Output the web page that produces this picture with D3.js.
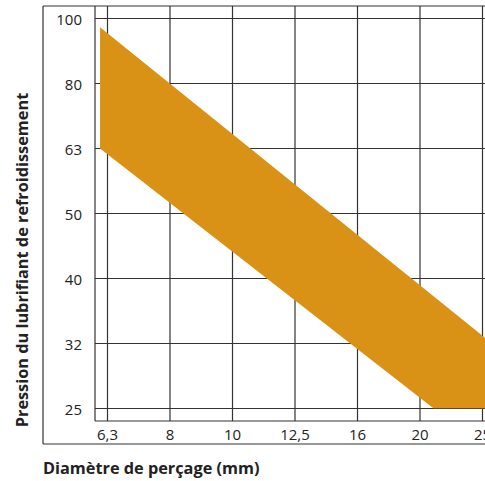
<!DOCTYPE html>
<html>
<head>
<meta charset="utf-8">
<script src="https://cdn.jsdelivr.net/npm/d3@7"></script>
<style>
    body { margin: 0; background: #fff; }
    svg { display: block; }
    text { font-family: "Open Sans", "Noto Sans", sans-serif; fill: #222; }
</style>
</head>
<body>
<svg id="chart"></svg>
<script>
// tick labels (preferred number series, both axes logarithmic)
var diameterTicks = [6.3, 8, 10, 12.5, 16, 20, 25];
var pressureTicks = [25, 32, 40, 50, 63, 80, 100];

// band of recommended pressure
var upperDiameter = [6.15, 26.8];
var upperPressure = [96.8, 30.9];
var lowerDiameter = [6.15, 21.0, 26.8];
var lowerPressure = [63.0, 25.1, 25.1];

var dimensions = {
    width: 485,
    height: 481,
    frameLeft: 43,
    frameTop: 6,
    frameBottom: 444,
    plotLeft: 95,
    plotBottom: 421
};

var svg = d3.select("#chart")
    .attr("width", dimensions.width)
    .attr("height", dimensions.height);

// the nominal values sit on the R10 series 10^(k/10)
var preferred = v => Math.pow(10, Math.round(Math.log10(v) * 10) / 10);

var xScale = d3.scaleLog()
    .domain([preferred(6.3), preferred(25)])
    .range([107, 482]);

var yScale = d3.scaleLog()
    .domain([preferred(25), preferred(100)])
    .range([408, 18]);

var fmt = v => String(v).replace(".", ",");

// vertical grid + x labels
var xAxis = d3.axisBottom(xScale)
    .tickValues(diameterTicks.map(preferred))
    .tickFormat((d, i) => fmt(diameterTicks[i]))
    .tickSize(-(dimensions.plotBottom - dimensions.frameTop))
    .tickPadding(8);

var gx = svg.append("g")
    .attr("transform", `translate(0, ${dimensions.plotBottom})`)
    .call(xAxis);
gx.select(".domain").remove();

// horizontal grid + y labels
var yAxis = d3.axisLeft(yScale)
    .tickValues(pressureTicks.map(preferred))
    .tickFormat((d, i) => pressureTicks[i])
    .tickSize(-(dimensions.width + 20 - dimensions.plotLeft))
    .tickPadding(13);

var gy = svg.append("g")
    .attr("transform", `translate(${dimensions.plotLeft}, 0)`)
    .call(yAxis);
gy.select(".domain").remove();

svg.selectAll(".tick line")
    .attr("stroke", "#333")
    .attr("stroke-width", 1.2);
svg.selectAll(".tick text")
    .attr("font-size", 15)
    .attr("fill", "#222");
gy.selectAll(".tick text").attr("dy", "0.42em");

// frame lines
var frame = [
    [dimensions.frameLeft, dimensions.frameTop, dimensions.width + 10, dimensions.frameTop],
    [dimensions.frameLeft, dimensions.frameTop, dimensions.frameLeft, dimensions.frameBottom],
    [dimensions.frameLeft, dimensions.frameBottom, dimensions.width + 10, dimensions.frameBottom],
    [dimensions.plotLeft, dimensions.frameTop, dimensions.plotLeft, dimensions.plotBottom],
    [dimensions.plotLeft, dimensions.plotBottom, dimensions.width + 10, dimensions.plotBottom]
];
svg.selectAll(".frame")
    .data(frame)
    .enter()
    .append("line")
    .attr("class", "frame")
    .attr("x1", d => d[0])
    .attr("y1", d => d[1])
    .attr("x2", d => d[2])
    .attr("y2", d => d[3])
    .attr("stroke", "#333")
    .attr("stroke-width", 1.2);

// band polygon: upper edge, then lower edge backwards
var band = upperDiameter.map((d, i) => [d, upperPressure[i]])
    .concat(lowerDiameter.map((d, i) => [d, lowerPressure[i]]).reverse());

svg.append("path")
    .datum(band)
    .attr("d", d3.line().x(d => xScale(d[0])).y(d => yScale(d[1])).curve(d3.curveLinearClosed))
    .attr("fill", "#d99216");

// axis titles
svg.append("text")
    .attr("x", dimensions.frameLeft)
    .attr("y", 474)
    .attr("font-size", 16.3)
    .attr("font-weight", "bold")
    .text("Diamètre de perçage (mm)");

svg.append("text")
    .attr("transform", "translate(28, 260) rotate(-90)")
    .attr("text-anchor", "middle")
    .attr("font-size", 16.3)
    .attr("font-weight", "bold")
    .text("Pression du lubrifiant de refroidissement");
</script>
</body>
</html>
